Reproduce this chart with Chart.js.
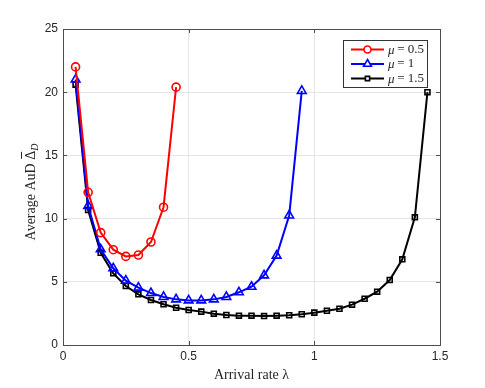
<!DOCTYPE html>
<html>
<head>
<meta charset="utf-8">
<script src="https://cdn.jsdelivr.net/npm/chart.js@4"></script>
<style>
  html, body { margin: 0; padding: 0; background: #fff; }
  #wrap { width: 485px; height: 388px; }
</style>
</head>
<body>
<div id="wrap"><canvas id="myChart" width="485" height="388"></canvas></div>
<script>
// arrival rates for each curve
var lambdaRed = [0.05, 0.1, 0.15, 0.2, 0.25, 0.3, 0.35, 0.4, 0.45];
var lambdaBlue = [0.05, 0.1, 0.15, 0.2, 0.25, 0.3, 0.35, 0.4, 0.45, 0.5,
                  0.55, 0.6, 0.65, 0.7, 0.75, 0.8, 0.85, 0.9, 0.95];
var lambdaBlack = [0.05, 0.1, 0.15, 0.2, 0.25, 0.3, 0.35, 0.4, 0.45, 0.5,
                   0.55, 0.6, 0.65, 0.7, 0.75, 0.8, 0.85, 0.9, 0.95, 1.0,
                   1.05, 1.1, 1.15, 1.2, 1.25, 1.3, 1.35, 1.4, 1.45];

// average AuD values
var audMu05 = [22.0, 12.08, 8.89, 7.54, 7.01, 7.12, 8.15, 10.9, 20.4];
var audMu1 = [21.0, 11.0, 7.57, 6.07, 5.09, 4.54, 4.11, 3.80, 3.61, 3.53,
              3.53, 3.61, 3.80, 4.17, 4.61, 5.51, 7.07, 10.25, 20.1];
var audMu15 = [20.6, 10.68, 7.3, 5.67, 4.67, 4.01, 3.56, 3.22, 2.95, 2.77,
               2.64, 2.48, 2.37, 2.32, 2.32, 2.29, 2.32, 2.35, 2.43, 2.56,
               2.71, 2.87, 3.19, 3.66, 4.22, 5.14, 6.78, 10.1, 20.0];

var xTicks = [0, 0.5, 1, 1.5];
var yTicks = [0, 5, 10, 15, 20, 25];
var seriesNames = ['\u03bc = 0.5', '\u03bc = 1', '\u03bc = 1.5'];

function pts(xs, ys) {
    return xs.map(function (x, i) { return { x: x, y: ys[i] }; });
}

var axisColor = '#4d4d4d';
var tickFont = { family: 'Liberation Sans', size: 12 };

// draws the box, inward ticks, y title and the legend like matlab does
var boxPlugin = {
    id: 'box',
    afterDraw: function (chart) {
        var c = chart.ctx, a = chart.chartArea;
        var xs = chart.scales.x, ys = chart.scales.y;
        c.save();
        c.strokeStyle = axisColor;
        c.lineWidth = 1;
        c.strokeRect(a.left + 0.5, a.top + 0.5, a.right - a.left, a.bottom - a.top);
        c.beginPath();
        xTicks.forEach(function (t) {
            var px = Math.round(xs.getPixelForValue(t)) + 0.5;
            c.moveTo(px, a.bottom); c.lineTo(px, a.bottom - 4);
            c.moveTo(px, a.top); c.lineTo(px, a.top + 4);
        });
        yTicks.forEach(function (t) {
            var py = Math.round(ys.getPixelForValue(t)) + 0.5;
            c.moveTo(a.left, py); c.lineTo(a.left + 4, py);
            c.moveTo(a.right, py); c.lineTo(a.right - 4, py);
        });
        c.stroke();

        // y axis title with subscript
        c.translate(31, 192);
        c.rotate(-Math.PI / 2);
        c.fillStyle = '#262626';
        c.textBaseline = 'middle';
        c.font = '14px "Liberation Serif"';
        var main = 'Average AuD \u0394';
        var w1 = c.measureText(main).width;
        c.font = '10px "Liberation Serif"';
        var w2 = c.measureText('D').width;
        var x0 = -(w1 + w2) / 2;
        c.font = '14px "Liberation Serif"';
        c.fillText(main, x0, 0);
        // bar over delta
        var wd = c.measureText('\u0394').width;
        c.beginPath();
        c.moveTo(x0 + w1 - wd + 1, -9.5); c.lineTo(x0 + w1 - 1, -9.5);
        c.strokeStyle = '#262626';
        c.stroke();
        c.font = 'italic 10px "Liberation Serif"';
        c.fillText('D', x0 + w1, 4);
        c.restore();

        // legend
        c.save();
        c.fillStyle = '#fff';
        c.fillRect(343, 40, 84, 47);
        c.strokeStyle = '#333';
        c.lineWidth = 1;
        c.strokeRect(343.5, 40.5, 84, 47);
        chart.data.datasets.forEach(function (ds, i) {
            var y = 49.5 + i * 14.5;
            c.strokeStyle = ds.borderColor;
            c.lineWidth = 2;
            c.beginPath(); c.moveTo(351, y); c.lineTo(384, y); c.stroke();
            c.fillStyle = '#fff';
            c.lineWidth = ds.pointBorderWidth;
            Chart.helpers.drawPoint(c, {
                pointStyle: ds.pointStyle, radius: ds.pointRadius - 0.5,
                borderWidth: ds.pointBorderWidth, rotation: 0
            }, 367.5, y);
            c.fillStyle = '#262626';
            c.textBaseline = 'middle';
            c.font = 'italic 13px "Liberation Serif"';
            c.fillText('\u03bc', 388, y + 1);
            c.font = '13px "Liberation Serif"';
            c.fillText(seriesNames[i].slice(1), 394, y);
        });
        c.restore();
    }
};

var ctx = document.getElementById('myChart').getContext('2d');
var chart = new Chart(ctx, {
    type: 'line',
    data: {
        datasets: [{
            label: seriesNames[0],
            data: pts(lambdaRed, audMu05),
            borderColor: '#ff0000',
            backgroundColor: '#ff0000',
            pointStyle: 'circle',
            pointRadius: 4,
            pointBorderWidth: 1.6,
            pointBackgroundColor: 'rgba(255,255,255,0)',
            borderWidth: 2,
            lineTension: 0
        }, {
            label: seriesNames[1],
            data: pts(lambdaBlue, audMu1),
            borderColor: '#0000ff',
            backgroundColor: '#0000ff',
            pointStyle: 'triangle',
            pointRadius: 5,
            pointBorderWidth: 1.6,
            pointBackgroundColor: 'rgba(255,255,255,0)',
            borderWidth: 2,
            lineTension: 0
        }, {
            label: seriesNames[2],
            data: pts(lambdaBlack, audMu15),
            borderColor: '#000000',
            backgroundColor: '#000000',
            pointStyle: 'rect',
            pointRadius: 3.5,
            pointBorderWidth: 1.6,
            pointBackgroundColor: 'rgba(255,255,255,0)',
            borderWidth: 2,
            lineTension: 0
        }]
    },
    options: {
        responsive: false,
        animation: false,
        layout: { padding: { top: 29, right: 45, left: 0, bottom: 0 } },
        plugins: { legend: { display: false }, tooltip: { enabled: false } },
        scales: {
            x: {
                type: 'linear', min: 0, max: 1.5,
                afterBuildTicks: function (s) { s.ticks = xTicks.map(function (v) { return { value: v }; }); },
                afterFit: function (s) { s.height = 43; },
                grid: { color: '#e5e5e5', drawTicks: false },
                border: { display: false },
                ticks: { color: '#262626', font: tickFont, padding: 4, maxRotation: 0,
                         callback: function (v) { return String(v); } },
                title: { display: true, text: 'Arrival rate \u03bb', color: '#262626',
                         font: { family: 'Liberation Serif', size: 14 }, padding: { top: 2 } }
            },
            y: {
                min: 0, max: 25,
                afterBuildTicks: function (s) { s.ticks = yTicks.map(function (v) { return { value: v }; }); },
                afterFit: function (s) { s.width = 63; },
                grid: { color: '#e5e5e5', drawTicks: false },
                border: { display: false },
                ticks: { color: '#262626', font: tickFont, padding: 5 }
            }
        }
    },
    plugins: [boxPlugin]
});
</script>
</body>
</html>
